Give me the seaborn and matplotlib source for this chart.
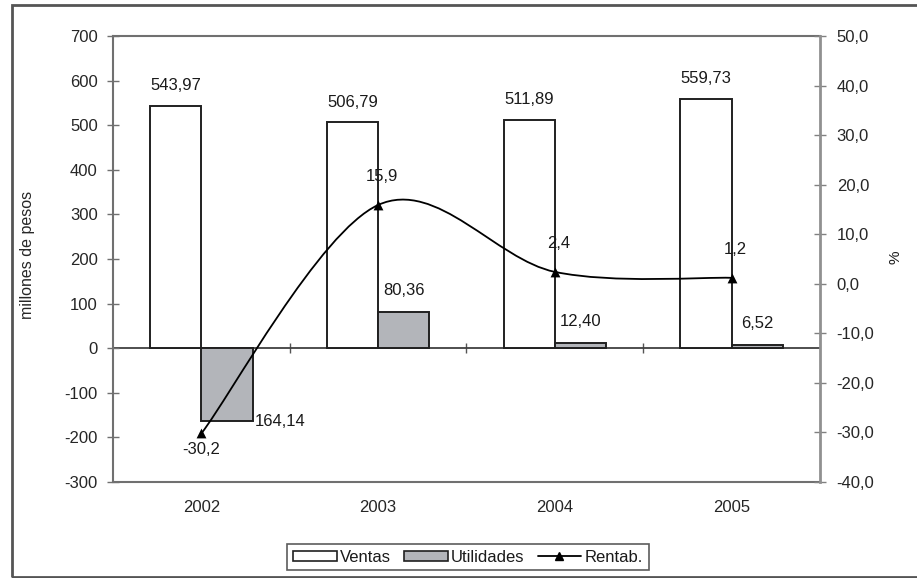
import numpy as np
import pandas as pd
import matplotlib
matplotlib.use("Agg")
import matplotlib.pyplot as plt
import seaborn as sns
from matplotlib.path import Path
from matplotlib.patches import PathPatch, Rectangle, Patch
from matplotlib.lines import Line2D

# Data
years = ["2002", "2003", "2004", "2005"]
ventas = [543.97, 506.79, 511.89, 559.73]
utilidades = [-164.14, 80.36, 12.40, 6.52]
rentab = [-30.2, 15.9, 2.4, 1.2]
series_names = ["Ventas", "Utilidades", "Rentab."]
left_ticks = list(range(-300, 701, 100))
right_ticks = list(range(-40, 51, 10))

FS = 12


def coma(v, dec):
    return f"{v:.{dec}f}".replace(".", ",")


sns.set_theme(style="white")
plt.rcParams["font.family"] = ["Liberation Sans", "DejaVu Sans"]
plt.rcParams["text.color"] = "#1a1a1a"

W, H = 917, 578
fig = plt.figure(figsize=(W / 100, H / 100), dpi=100)
fig.patch.set_facecolor("white")
ax = fig.add_axes([113 / W, 96 / H, 707 / W, 446 / H])

df = pd.DataFrame({
    "year": years * 2,
    "serie": [series_names[0]] * 4 + [series_names[1]] * 4,
    "valor": ventas + utilidades,
})
bar_colors = {series_names[0]: "white", series_names[1]: "#b3b5ba"}
sns.barplot(data=df, x="year", y="valor", hue="serie", hue_order=series_names[:2],
            palette=bar_colors, width=0.58, saturation=1, errorbar=None,
            edgecolor="#202020", linewidth=1.4, legend=False, ax=ax, zorder=3)

ax.set_xlim(-0.5, 3.5)
ax.set_ylim(left_ticks[0], left_ticks[-1])
ax.set_yticks(left_ticks)
ax.set_yticklabels([str(t) for t in left_ticks], fontsize=FS)
ax.set_xticks(range(len(years)))
ax.set_xticklabels(years, fontsize=FS)
ax.set_xlabel("")
ax.set_ylabel("millones de pesos", fontsize=11.5)
ax.yaxis.set_label_coords(-0.110, 0.509)
ax.tick_params(axis="x", bottom=False, length=0, pad=13)
ax.tick_params(axis="y", left=True, direction="inout", length=8, width=1,
               color="#707070", pad=7)
for side in ["left", "top", "bottom"]:
    ax.spines[side].set_color("#707070")
    ax.spines[side].set_linewidth(1.5)
ax.spines["right"].set_visible(False)

# category axis crossing at zero, with ticks between categories
zero_frac = (0 - left_ticks[0]) / (left_ticks[-1] - left_ticks[0])
secax = ax.secondary_xaxis(zero_frac)
secax.set_xticks([0.5, 1.5, 2.5])
secax.set_xticklabels([])
secax.tick_params(direction="inout", length=7, width=1, color="#555555")
secax.spines["bottom"].set_color("#404040")
secax.spines["bottom"].set_linewidth(1.3)

# bar value labels
ventas_bars, util_bars = ax.containers[0], ax.containers[1]
for rect, v in zip(ventas_bars, ventas):
    ax.annotate(coma(v, 2), (rect.get_x() + rect.get_width() / 2, v),
                xytext=(0, 9), textcoords="offset points",
                ha="center", va="bottom", fontsize=FS, zorder=6)
for rect, v in zip(util_bars, utilidades):
    if v < 0:
        ax.annotate(coma(abs(v), 2), (rect.get_x() + rect.get_width(), v),
                    xytext=(1.5, 0), textcoords="offset points",
                    ha="left", va="center", fontsize=FS, zorder=6)
    else:
        ax.annotate(coma(v, 2), (rect.get_x() + rect.get_width() / 2, v),
                    xytext=(0, 10), textcoords="offset points",
                    ha="center", va="bottom", fontsize=FS, zorder=6)

# secondary axis: profitability
ax2 = ax.twinx()
ax2.set_ylim(right_ticks[0], right_ticks[-1])
ax2.set_yticks(right_ticks)
ax2.set_yticklabels([coma(t, 1) for t in right_ticks], fontsize=FS)
ax2.tick_params(axis="y", right=True, direction="inout", length=8, width=1,
                color="#808080", pad=8)
for side in ["left", "top", "bottom"]:
    ax2.spines[side].set_visible(False)
ax2.spines["right"].set_color("#909090")
ax2.spines["right"].set_linewidth(2)

# smooth curve (cubic Bezier through every point)
pts = np.column_stack([np.arange(len(rentab)), rentab]).astype(float)
ext = np.vstack([pts[0], pts, pts[-1]])
verts = [tuple(pts[0])]
codes = [Path.MOVETO]
for i in range(len(pts) - 1):
    p0, p1, p2, p3 = ext[i], ext[i + 1], ext[i + 2], ext[i + 3]
    c1 = p1 + (p2 - p0) / 6
    c2 = p2 - (p3 - p1) / 6
    verts += [tuple(c1), tuple(c2), tuple(p2)]
    codes += [Path.CURVE4] * 3
ax2.add_patch(PathPatch(Path(verts, codes), fill=False, edgecolor="black",
                        linewidth=1.3, zorder=4))
sns.scatterplot(x=np.arange(len(rentab)), y=rentab, marker="^", color="black",
                s=50, linewidth=0, ax=ax2, zorder=5, legend=False)
for i, v in enumerate(rentab):
    if v < 0:
        ax2.annotate(coma(v, 1), (i, v), xytext=(0, -6), textcoords="offset points",
                     ha="center", va="top", fontsize=FS)
    else:
        ax2.annotate(coma(v, 1), (i, v), xytext=(3, 15), textcoords="offset points",
                     ha="center", va="bottom", fontsize=FS)
ax2.set_xlim(-0.5, 3.5)

fig.text(895 / W, 1 - 257 / H, "%", rotation=90, ha="center", va="center",
         fontsize=11)

# legend
handles = [
    Patch(facecolor="white", edgecolor="#202020", linewidth=1.2),
    Patch(facecolor="#b3b5ba", edgecolor="#202020", linewidth=1.2),
    Line2D([], [], color="black", linewidth=1.3, marker="^", markersize=6),
]
leg = fig.legend(handles, series_names, loc="center",
                 bbox_to_anchor=(468 / W, 1 - 557 / H), ncol=3, frameon=True,
                 fancybox=False, edgecolor="#333333", fontsize=FS,
                 handlelength=2.6, handleheight=0.55, handletextpad=0.2,
                 columnspacing=0.8, borderpad=0.35, borderaxespad=0)
leg.get_frame().set_linewidth(1.2)

# outer chart frame
fig.patches.append(Rectangle((12 / W, 1 / H), 1.0, 572 / H, transform=fig.transFigure,
                             fill=False, edgecolor="#555555", linewidth=2))

fig.savefig("out.png", dpi=100, facecolor="white")
